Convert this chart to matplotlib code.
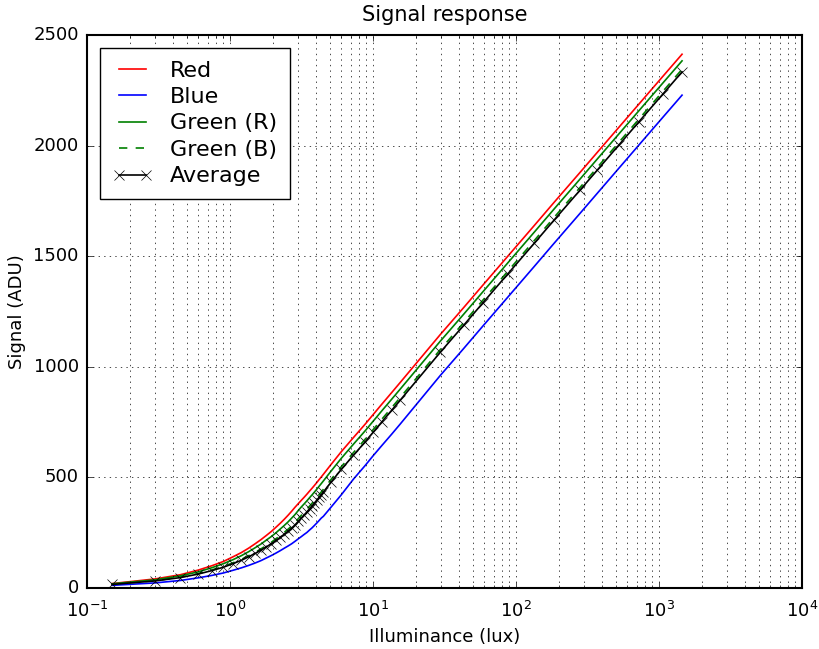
import matplotlib
matplotlib.use("Agg")
import matplotlib.pyplot as plt
import numpy as np

# Illuminance steps (lux) and mean signal per channel (ADU)
lux = [0.15, 0.30, 0.45, 0.60, 0.75, 0.90, 1.05, 1.20, 1.35, 1.50,
       1.65, 1.80, 1.95, 2.10, 2.25, 2.40, 2.55, 2.70, 2.85, 3.00,
       3.15, 3.30, 3.45, 3.60, 3.75, 3.90, 4.05, 4.20, 4.35, 4.50,
       5.1, 6.0, 7.3, 8.8, 10.0, 11.5, 13.5, 15.5,
       29.5, 43, 58.5, 88, 134, 184, 280, 370, 525, 725, 1065, 1450]

red = [20, 41, 60, 81, 101, 120, 141, 160, 180, 200,
       219, 238, 256, 275, 293, 311, 329, 347, 365, 381,
       396, 410, 424, 438, 451, 464, 477, 490, 502, 514,
       559, 616, 680, 740, 783, 830, 883, 929,
       1145, 1267, 1368, 1501, 1638, 1742, 1878, 1969, 2083, 2188, 2313, 2413]

blue = [12, 23, 34, 46, 57, 68, 80, 91, 102, 113,
        124, 136, 147, 158, 169, 180, 190, 200, 211, 222,
        232, 242, 251, 262, 272, 283, 294, 305, 316, 324,
        366, 421, 492, 553, 597, 643, 695, 741,
        960, 1082, 1183, 1316, 1453, 1557, 1693, 1784, 1898, 2003, 2128, 2228]

green_r = [19, 37, 55, 73, 92, 110, 128, 146, 164, 182,
           199, 217, 233, 250, 267, 283, 299, 316, 332, 350,
           366, 380, 394, 408, 421, 434, 447, 460, 472, 484,
           529, 586, 650, 710, 753, 800, 853, 899,
           1115, 1237, 1338, 1471, 1608, 1712, 1848, 1939, 2053, 2158, 2283, 2383]

green_b = [17, 33, 49, 65, 82, 97, 114, 129, 146, 161,
           177, 193, 207, 223, 237, 252, 266, 280, 295, 313,
           328, 342, 356, 370, 383, 396, 409, 422, 434, 446,
           491, 548, 612, 672, 715, 762, 815, 861,
           1077, 1199, 1300, 1433, 1570, 1674, 1810, 1901, 2015, 2120, 2245, 2345]

average = [16, 32, 47, 63, 79, 94, 110, 125, 141, 156,
           171, 186, 200, 215, 229, 243, 257, 271, 285, 301,
           316, 330, 344, 358, 371, 384, 397, 410, 422, 434,
           479, 536, 600, 660, 703, 750, 803, 849,
           1065, 1187, 1288, 1421, 1558, 1662, 1798, 1889, 2003, 2108, 2233, 2333]

plt.style.use("classic")
plt.rcParams["lines.linewidth"] = 1.2
plt.rcParams["axes.linewidth"] = 1.5

fig = plt.figure(figsize=(8.19, 6.49), dpi=100)
ax = fig.add_axes([0.1062, 0.0940, 0.8730, 0.8521])

ax.plot(lux, red, "r-", label="Red")
ax.plot(lux, blue, "b-", label="Blue")
ax.plot(lux, green_r, "g-", label="Green (R)")
ax.plot(lux, green_b, "g--", label="Green (B)")
ax.plot(lux, average, "k-x", markersize=7, label="Average")

ax.set_xscale("log")
ax.set_xlim(0.1, 1e4)
ax.set_ylim(0, 2500)
ax.grid(True, which="both", axis="x")
ax.grid(True, which="major", axis="y")

ax.set_title("Signal response", fontsize=15, y=1.012)
ax.set_xlabel("Illuminance (lux)", fontsize=13)
ax.set_ylabel("Signal (ADU)", fontsize=13)
ax.tick_params(labelsize=13)
ax.tick_params(axis="x", which="major", pad=9)
ax.tick_params(axis="y", which="major", pad=6)

ax.legend(loc="upper left", fontsize=16, handlelength=1.8,
          handletextpad=0.8, borderpad=0.55, borderaxespad=0.6,
          labelspacing=0.29)

fig.savefig("out.png", dpi=100, facecolor="white")
